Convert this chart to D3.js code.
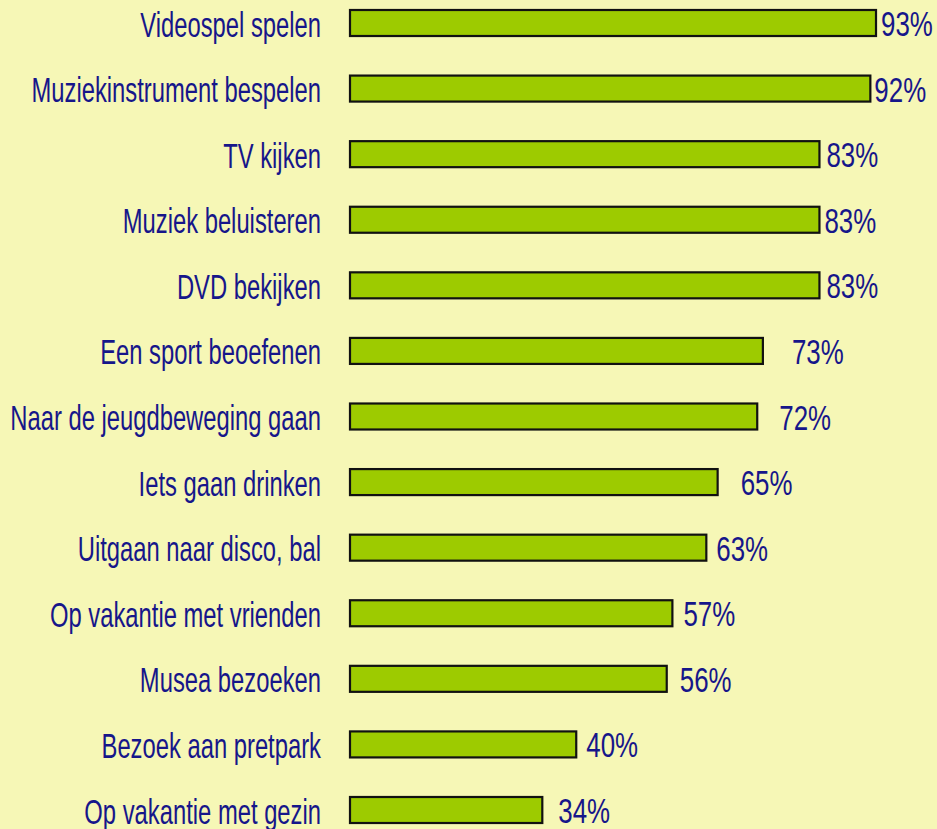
<!DOCTYPE html>
<html>
<head>
<meta charset="utf-8">
<script src="https://cdn.jsdelivr.net/npm/d3@7"></script>
<style>
  html, body { margin: 0; padding: 0; background: #F6F7B6; }
  svg { display: block; }
  text { font-family: "Liberation Sans", Arial, sans-serif; fill: #16168A; }
</style>
</head>
<body>
<svg id="chart" width="937" height="829"></svg>
<script>
const categories = [
  "Videospel spelen",
  "Muziekinstrument bespelen",
  "TV kijken",
  "Muziek beluisteren",
  "DVD bekijken",
  "Een sport beoefenen",
  "Naar de jeugdbeweging gaan",
  "Iets gaan drinken",
  "Uitgaan naar disco, bal",
  "Op vakantie met vrienden",
  "Musea bezoeken",
  "Bezoek aan pretpark",
  "Op vakantie met gezin"
];
const values = [93, 92, 83, 83, 83, 73, 72, 65, 63, 57, 56, 40, 34];
const valueLabels = ["93%", "92%", "83%", "83%", "83%", "73%", "72%", "65%", "63%", "57%", "56%", "40%", "34%"];

// layout (not data): gap between bar end and its value label, as in the original
const labelGaps = [5, 4, 7, 5, 7, 29, 22, 23, 10, 11, 13, 10, 16];

const W = 937, H = 829;
const svg = d3.select("#chart");
svg.append("rect").attr("width", W).attr("height", H).attr("fill", "#F6F7B6");

const x = d3.scaleLinear().domain([0, 100]).range([350, 915.6]);
const y = d3.scalePoint().domain(categories).range([23, 810]);
const barH = 26;
const fontSize = 35;
const sxCat = 0.68;
const sxVal = 0.74;

const rows = categories.map((c, i) => ({ c, v: values[i], lab: valueLabels[i], gap: labelGaps[i] }));

svg.selectAll("rect.bar").data(rows).enter().append("rect")
  .attr("class", "bar")
  .attr("x", x(0))
  .attr("y", d => y(d.c) - barH / 2)
  .attr("width", d => x(d.v) - x(0))
  .attr("height", barH)
  .attr("fill", "#9DCB00")
  .attr("stroke", "#111")
  .attr("stroke-width", 2.2);

svg.selectAll("text.cat").data(rows).enter().append("text")
  .attr("class", "cat")
  .attr("text-anchor", "end")
  .attr("font-size", fontSize)
  .attr("transform", d => `translate(321,${y(d.c) + 13.5}) scale(${sxCat},1)`)
  .text(d => d.c);

svg.selectAll("text.val").data(rows).enter().append("text")
  .attr("class", "val")
  .attr("text-anchor", "start")
  .attr("font-size", fontSize)
  .attr("transform", d => `translate(${x(d.v) + d.gap},${y(d.c) + 13})  scale(${sxVal},1)`)
  .text(d => d.lab);
</script>
</body>
</html>
